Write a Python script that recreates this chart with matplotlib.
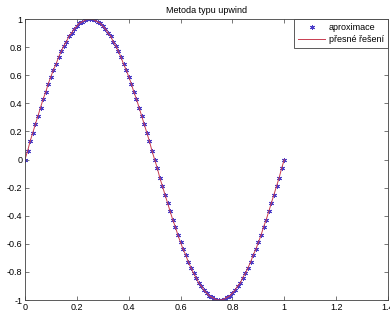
import matplotlib
matplotlib.use('Agg')
import matplotlib.pyplot as plt

plt.rcParams['font.family'] = ['Liberation Sans', 'DejaVu Sans']

# sit x_j = j*h, h = 0.01
x = [0.00, 0.01, 0.02, 0.03, 0.04, 0.05, 0.06, 0.07, 0.08, 0.09,
     0.10, 0.11, 0.12, 0.13, 0.14, 0.15, 0.16, 0.17, 0.18, 0.19,
     0.20, 0.21, 0.22, 0.23, 0.24, 0.25, 0.26, 0.27, 0.28, 0.29,
     0.30, 0.31, 0.32, 0.33, 0.34, 0.35, 0.36, 0.37, 0.38, 0.39,
     0.40, 0.41, 0.42, 0.43, 0.44, 0.45, 0.46, 0.47, 0.48, 0.49,
     0.50, 0.51, 0.52, 0.53, 0.54, 0.55, 0.56, 0.57, 0.58, 0.59,
     0.60, 0.61, 0.62, 0.63, 0.64, 0.65, 0.66, 0.67, 0.68, 0.69,
     0.70, 0.71, 0.72, 0.73, 0.74, 0.75, 0.76, 0.77, 0.78, 0.79,
     0.80, 0.81, 0.82, 0.83, 0.84, 0.85, 0.86, 0.87, 0.88, 0.89,
     0.90, 0.91, 0.92, 0.93, 0.94, 0.95, 0.96, 0.97, 0.98, 0.99,
     1.00]

# numericke reseni (upwind)
aproximace = [0.00, 0.06, 0.13, 0.19, 0.25, 0.31, 0.37, 0.43, 0.48, 0.54,
              0.59, 0.64, 0.68, 0.73, 0.77, 0.81, 0.84, 0.88, 0.90, 0.93,
              0.95, 0.97, 0.98, 0.99, 1.00, 1.00, 1.00, 0.99, 0.98, 0.97,
              0.95, 0.93, 0.90, 0.88, 0.84, 0.81, 0.77, 0.73, 0.68, 0.64,
              0.59, 0.54, 0.48, 0.43, 0.37, 0.31, 0.25, 0.19, 0.13, 0.06,
              0.00, -0.06, -0.13, -0.19, -0.25, -0.31, -0.37, -0.43, -0.48, -0.54,
              -0.59, -0.64, -0.68, -0.73, -0.77, -0.81, -0.84, -0.88, -0.90, -0.93,
              -0.95, -0.97, -0.98, -0.99, -1.00, -1.00, -1.00, -0.99, -0.98, -0.97,
              -0.95, -0.93, -0.90, -0.88, -0.84, -0.81, -0.77, -0.73, -0.68, -0.64,
              -0.59, -0.54, -0.48, -0.43, -0.37, -0.31, -0.25, -0.19, -0.13, -0.06,
              0.00]

# presne reseni v tech samych uzlech
presne = list(aproximace)

fig = plt.figure(figsize=(3.9, 3.2), dpi=100)
ax = fig.add_axes([0.064, 0.0625, 0.931, 0.878])

# hvezdicka jako v matlabu (6 ramen)
ax.plot(x, aproximace, linestyle='none', marker=(6, 2, 0), color='#4a3cc8',
        markersize=3.6, markeredgewidth=0.7, label='aproximace')
ax.plot(x, presne, '-', color='#c83c50', linewidth=0.7, label='přesné řešení')

ax.set_xlim(0, 1.4)
ax.set_ylim(-1, 1)
ax.set_xticks([0, 0.2, 0.4, 0.6, 0.8, 1, 1.2, 1.4])
ax.set_xticklabels(['0', '0.2', '0.4', '0.6', '0.8', '1', '1.2', '1.4'])
ax.set_yticks([-1, -0.8, -0.6, -0.4, -0.2, 0, 0.2, 0.4, 0.6, 0.8, 1])
ax.set_yticklabels(['-1', '-0.8', '-0.6', '-0.4', '-0.2', '0', '0.2', '0.4',
                    '0.6', '0.8', '1'])
ax.tick_params(direction='in', top=True, right=True, length=3, width=0.5,
               labelsize=6.5, pad=2, colors='#404040', labelcolor='black')
for s in ax.spines.values():
    s.set_linewidth(0.6)
    s.set_color('#404040')

ax.set_title('Metoda typu upwind', fontsize=6.5, pad=4)

leg = ax.legend(loc='upper right', fontsize=6.5, fancybox=False, framealpha=1,
                edgecolor='#404040', borderpad=0.45, handlelength=3.0,
                borderaxespad=0, labelspacing=0.35, handletextpad=0.4)
leg.get_frame().set_linewidth(0.6)

fig.savefig('out.png', dpi=100)
